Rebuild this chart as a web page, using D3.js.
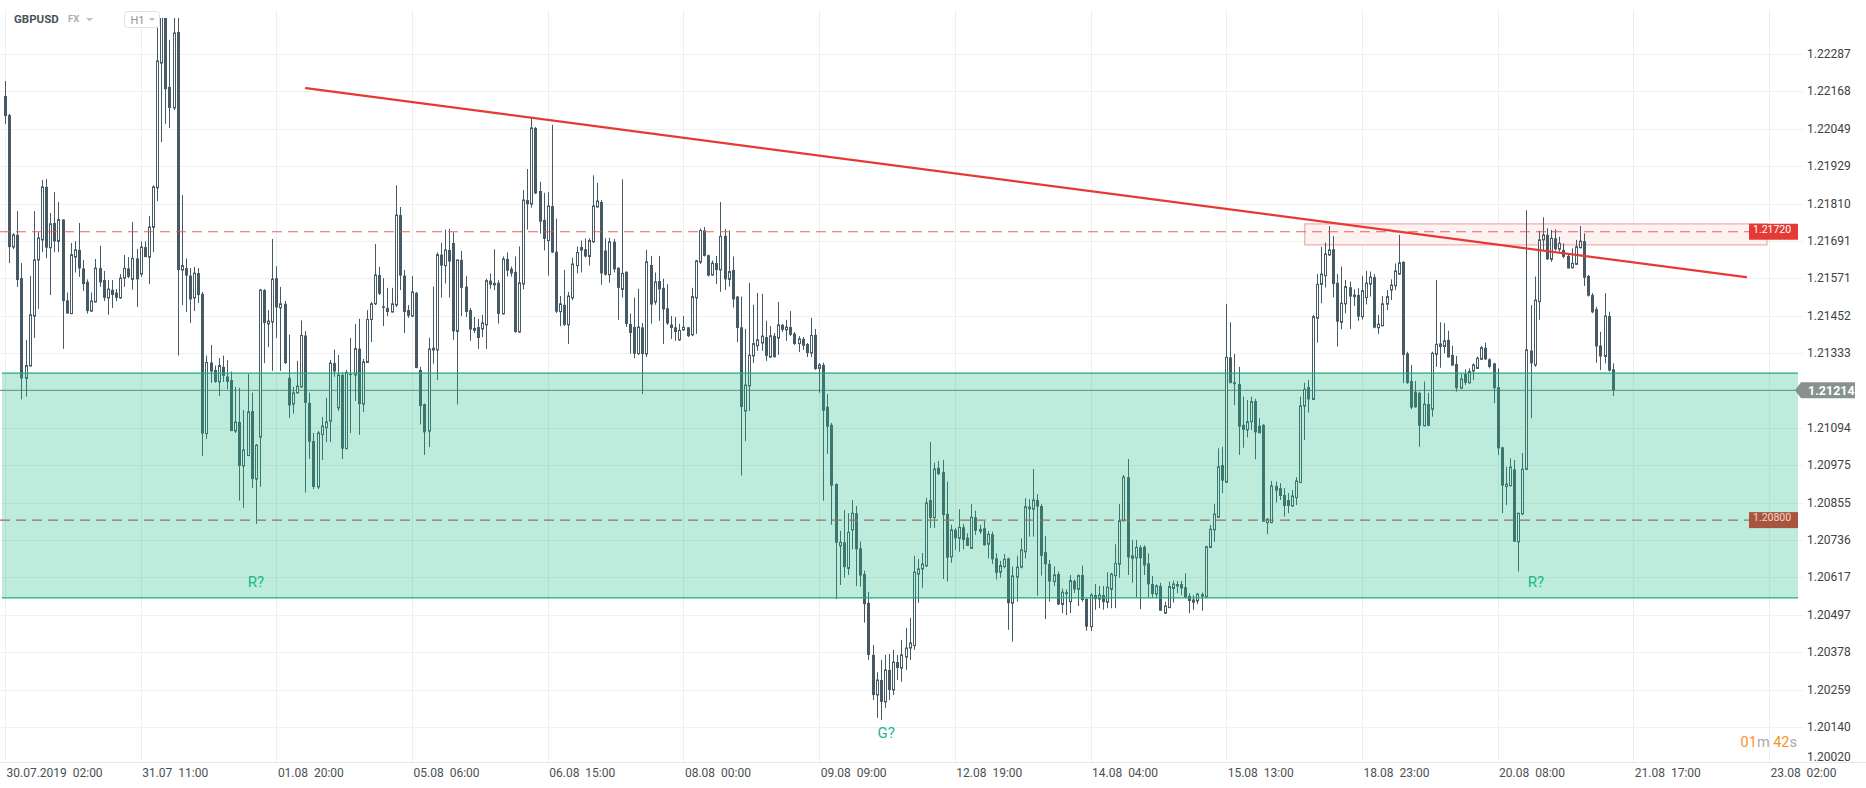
<!DOCTYPE html>
<html>
<head>
<meta charset="utf-8">
<script src="https://cdn.jsdelivr.net/npm/d3@7"></script>
<style>
  html, body { margin: 0; padding: 0; background: #fff; }
  svg { display: block; font-family: Roboto, "Noto Sans", sans-serif; }
</style>
</head>
<body>
<svg id="chart" width="1866" height="788"></svg>
<script>
// GBPUSD H1 candles (index 0 = 30.07.2019 02:00)
const opens = [
  1.22153,1.22092,1.21671,1.21710,1.21572,1.21252,1.21292,1.21451,1.21630,1.21694,
  1.21863,1.21669,1.21748,1.21689,1.21759,1.21501,1.21459,1.21639,1.21662,1.21603,
  1.21560,1.21467,1.21496,1.21604,1.21566,1.21509,1.21535,1.21526,1.21509,1.21572,
  1.21603,1.21568,1.21635,1.21585,1.21671,1.21639,1.21734,1.21860,1.22258,1.22427,
  1.22182,1.22115,1.22357,1.21598,1.21604,1.21580,1.21509,1.21588,1.21522,1.21076,
  1.21303,1.21279,1.21241,1.21289,1.21258,1.21247,1.21084,1.21113,1.20973,1.21006,
  1.21148,1.20931,1.21065,1.21534,1.21426,1.21432,1.21572,1.21477,1.21490,1.21254,
  1.21170,1.21206,1.21225,1.21389,1.21174,1.21052,1.20906,1.21073,1.21095,1.21116,
  1.21301,1.21158,1.21263,1.21028,1.21266,1.21263,1.21347,1.21170,1.21303,1.21440,
  1.21490,1.21582,1.21482,1.21477,1.21464,1.21486,1.21773,1.21580,1.21470,1.21451,
  1.21525,1.21279,1.21170,1.21084,1.21350,1.21343,1.21647,1.21612,1.21662,1.21684,
  1.21402,1.21630,1.21545,1.21470,1.21413,1.21416,1.21410,1.21423,1.21564,1.21557,
  1.21557,1.21458,1.21633,1.21602,1.21592,1.21400,1.21553,1.21821,1.21808,1.22051,
  1.21850,1.21758,1.21692,1.21802,1.21656,1.21465,1.21487,1.21423,1.21509,1.21612,
  1.21671,1.21664,1.21641,1.21688,1.21799,1.21815,1.21660,1.21583,1.21688,1.21605,
  1.21536,1.21592,1.21426,1.21416,1.21331,1.21415,1.21330,1.21614,1.21496,1.21563,
  1.21541,1.21476,1.21424,1.21415,1.21375,1.21407,1.21415,1.21391,1.21509,1.21623,
  1.21724,1.21645,1.21582,1.21620,1.21598,1.21707,1.21568,1.21598,1.21513,1.21415,
  1.21148,1.21228,1.21324,1.21356,1.21365,1.21384,1.21320,1.21388,1.21381,1.21423,
  1.21407,1.21416,1.21395,1.21363,1.21378,1.21362,1.21333,1.21391,1.21284,1.21295,
  1.21162,1.21104,1.20915,1.20718,1.20729,1.20646,1.20769,1.20822,1.20710,1.20628,
  1.20536,1.20370,1.20242,1.20290,1.20220,1.20322,1.20258,1.20347,1.20328,1.20363,
  1.20392,1.20400,1.20628,1.20644,1.20654,1.20864,1.20808,1.20967,1.20953,1.20820,
  1.20683,1.20769,1.20742,1.20777,1.20744,1.20710,1.20809,1.20772,1.20774,1.20723,
  1.20755,1.20678,1.20634,1.20652,1.20678,1.20535,1.20618,1.20650,1.20699,1.20843,
  1.20835,1.20864,1.20845,1.20698,1.20660,1.20604,1.20628,1.20531,1.20570,1.20540,
  1.20606,1.20579,1.20625,1.20549,1.20460,1.20561,1.20548,1.20561,1.20538,1.20579,
  1.20623,1.20659,1.20798,1.20937,1.20678,1.20680,1.20713,1.20715,1.20662,1.20596,
  1.20564,1.20590,1.20503,1.20521,1.20582,1.20596,1.20596,1.20586,1.20558,1.20538,
  1.20542,1.20564,1.20556,1.20713,1.20769,1.20809,1.20976,1.20921,1.21319,1.21240,
  1.21234,1.21104,1.21088,1.21114,1.21180,1.21101,1.21104,1.20792,1.20792,1.20909,
  1.20902,1.20880,1.20864,1.20845,1.20872,1.20920,1.21164,1.21224,1.21185,1.21444,
  1.21552,1.21580,1.21646,1.21664,1.21557,1.21431,1.21490,1.21543,1.21513,1.21518,
  1.21449,1.21510,1.21553,1.21575,1.21414,1.21420,1.21489,1.21534,1.21548,1.21585,
  1.21624,1.21332,1.21244,1.21210,1.21206,1.21101,1.21170,1.21154,1.21329,1.21354,
  1.21354,1.21375,1.21327,1.21298,1.21221,1.21266,1.21238,1.21276,1.21284,1.21313,
  1.21350,1.21313,1.21300,1.21224,1.21032,1.20907,1.20910,1.20962,1.20731,1.20820,
  1.20962,1.21341,1.21295,1.21497,1.21694,1.21710,1.21632,1.21699,1.21664,1.21662,
  1.21643,1.21605,1.21616,1.21669,1.21690,1.21579,1.21518,1.21473,1.21357,1.21322,
  1.21451,1.21281
];
const highs = [
  1.22201,1.22096,1.21716,1.21786,1.21620,1.21375,1.21579,1.21786,1.21719,1.21885,
  1.21888,1.21780,1.21847,1.21815,1.21760,1.21526,1.21684,1.21690,1.21748,1.21630,
  1.21568,1.21526,1.21633,1.21675,1.21595,1.21566,1.21566,1.21537,1.21585,1.21646,
  1.21639,1.21751,1.21665,1.21689,1.21689,1.21770,1.21868,1.22443,1.22450,1.22459,
  1.22332,1.22402,1.22402,1.21837,1.21635,1.21604,1.21608,1.21604,1.21528,1.21325,
  1.21359,1.21293,1.21317,1.21325,1.21311,1.21274,1.21225,1.21222,1.21151,1.21266,
  1.21207,1.21043,1.21537,1.21537,1.21470,1.21697,1.21610,1.21544,1.21499,1.21392,
  1.21225,1.21308,1.21437,1.21403,1.21207,1.21078,1.21084,1.21129,1.21190,1.21311,
  1.21344,1.21327,1.21271,1.21279,1.21381,1.21426,1.21442,1.21314,1.21470,1.21496,
  1.21681,1.21608,1.21572,1.21541,1.21541,1.21868,1.21799,1.21598,1.21486,1.21579,
  1.21528,1.21289,1.21172,1.21382,1.21545,1.21654,1.21685,1.21727,1.21729,1.21718,
  1.21630,1.21659,1.21579,1.21477,1.21448,1.21442,1.21455,1.21570,1.21587,1.21664,
  1.21566,1.21641,1.21654,1.21609,1.21641,1.21673,1.21853,1.21920,1.22083,1.22054,
  1.21879,1.21844,1.21847,1.22061,1.21762,1.21515,1.21598,1.21528,1.21637,1.21673,
  1.21692,1.21699,1.21699,1.21900,1.21876,1.21821,1.21699,1.21701,1.21697,1.21606,
  1.21887,1.21594,1.21459,1.21510,1.21538,1.21429,1.21662,1.21643,1.21590,1.21643,
  1.21570,1.21553,1.21451,1.21448,1.21426,1.21451,1.21416,1.21541,1.21630,1.21730,
  1.21735,1.21647,1.21628,1.21643,1.21815,1.21729,1.21724,1.21641,1.21515,1.21513,
  1.21410,1.21557,1.21487,1.21525,1.21522,1.21436,1.21419,1.21397,1.21496,1.21426,
  1.21439,1.21467,1.21400,1.21387,1.21384,1.21365,1.21445,1.21410,1.21301,1.21302,
  1.21202,1.21110,1.20917,1.20766,1.20832,1.20822,1.20864,1.20845,1.20731,1.20639,
  1.20571,1.20402,1.20315,1.20354,1.20370,1.20373,1.20386,1.20370,1.20418,1.20456,
  1.20488,1.20686,1.20676,1.20695,1.20871,1.21049,1.20983,1.20989,1.20992,1.20923,
  1.20785,1.20775,1.20835,1.20788,1.20758,1.20851,1.20830,1.20785,1.20797,1.20765,
  1.20763,1.20694,1.20670,1.20692,1.20680,1.20652,1.20686,1.20742,1.20870,1.20867,
  1.20963,1.20883,1.20851,1.20750,1.20673,1.20652,1.20636,1.20582,1.20579,1.20625,
  1.20611,1.20627,1.20655,1.20550,1.20567,1.20596,1.20590,1.20590,1.20634,1.20632,
  1.20723,1.20851,1.20944,1.20995,1.20737,1.20737,1.20720,1.20720,1.20694,1.20622,
  1.20595,1.20600,1.20540,1.20604,1.20607,1.20606,1.20606,1.20630,1.20567,1.20561,
  1.20567,1.20569,1.20718,1.20785,1.20851,1.21029,1.21034,1.21490,1.21431,1.21330,
  1.21289,1.21194,1.21183,1.21194,1.21187,1.21125,1.21106,1.20806,1.20925,1.20923,
  1.20918,1.20902,1.20886,1.20896,1.20937,1.21194,1.21238,1.21247,1.21455,1.21585,
  1.21672,1.21685,1.21738,1.21706,1.21585,1.21609,1.21566,1.21561,1.21536,1.21540,
  1.21579,1.21595,1.21593,1.21585,1.21455,1.21515,1.21534,1.21568,1.21619,1.21710,
  1.21626,1.21337,1.21295,1.21244,1.21210,1.21242,1.21206,1.21337,1.21566,1.21431,
  1.21428,1.21404,1.21356,1.21324,1.21266,1.21281,1.21284,1.21300,1.21322,1.21356,
  1.21366,1.21316,1.21302,1.21284,1.21034,1.20970,1.20997,1.20992,1.20823,1.21014,
  1.21789,1.21486,1.21577,1.21723,1.21766,1.21731,1.21726,1.21728,1.21704,1.21683,
  1.21651,1.21667,1.21694,1.21738,1.21715,1.21582,1.21524,1.21481,1.21401,1.21524,
  1.21465,1.21300
];
const lows = [
  1.22064,1.21620,1.21665,1.21544,1.21185,1.21194,1.21290,1.21381,1.21474,1.21655,
  1.21636,1.21518,1.21655,1.21655,1.21346,1.21459,1.21457,1.21590,1.21576,1.21531,
  1.21459,1.21464,1.21494,1.21544,1.21499,1.21455,1.21477,1.21499,1.21506,1.21544,
  1.21572,1.21535,1.21480,1.21576,1.21639,1.21553,1.21655,1.21818,1.22006,1.22064,
  1.22051,1.22108,1.21325,1.21486,1.21464,1.21429,1.21467,1.21493,1.21005,1.21059,
  1.21238,1.21238,1.21196,1.21241,1.21218,1.21084,1.21078,1.20862,1.20839,1.21004,
  1.20903,1.20788,1.20906,1.21301,1.21352,1.21276,1.21381,1.21276,1.21298,1.21126,
  1.21140,1.21204,1.21222,1.20888,1.20995,1.20899,1.20899,1.20992,1.21049,1.21049,
  1.21257,1.21148,1.20995,1.21026,1.21078,1.21180,1.21072,1.21145,1.21301,1.21368,
  1.21486,1.21518,1.21419,1.21451,1.21462,1.21480,1.21534,1.21397,1.21445,1.21448,
  1.21285,1.21105,1.21008,1.21033,1.21299,1.21247,1.21510,1.21555,1.21510,1.21375,
  1.21169,1.21451,1.21448,1.21372,1.21397,1.21346,1.21384,1.21346,1.21538,1.21534,
  1.21427,1.21456,1.21577,1.21577,1.21398,1.21398,1.21536,1.21727,1.21797,1.21840,
  1.21714,1.21660,1.21580,1.21652,1.21461,1.21419,1.21419,1.21362,1.21502,1.21587,
  1.21590,1.21638,1.21612,1.21685,1.21797,1.21551,1.21580,1.21557,1.21590,1.21439,
  1.21510,1.21416,1.21331,1.21317,1.21327,1.21202,1.21320,1.21427,1.21487,1.21436,
  1.21362,1.21423,1.21378,1.21372,1.21372,1.21404,1.21384,1.21387,1.21394,1.21617,
  1.21641,1.21577,1.21580,1.21553,1.21528,1.21534,1.21545,1.21478,1.21368,1.20942,
  1.21052,1.21148,1.21301,1.21340,1.21340,1.21308,1.21318,1.21318,1.21327,1.21400,
  1.21372,1.21387,1.21359,1.21336,1.21343,1.21320,1.21320,1.21279,1.21206,1.20862,
  1.21011,1.20785,1.20548,1.20593,1.20616,1.20625,1.20707,1.20590,1.20588,1.20473,
  1.20354,1.20226,1.20169,1.20162,1.20201,1.20226,1.20242,1.20290,1.20284,1.20322,
  1.20354,1.20386,1.20536,1.20584,1.20650,1.20775,1.20775,1.20944,1.20612,1.20604,
  1.20664,1.20705,1.20699,1.20707,1.20718,1.20708,1.20753,1.20756,1.20718,1.20678,
  1.20660,1.20611,1.20616,1.20646,1.20450,1.20412,1.20540,1.20646,1.20678,1.20747,
  1.20747,1.20559,1.20623,1.20484,1.20540,1.20590,1.20529,1.20503,1.20497,1.20503,
  1.20567,1.20526,1.20540,1.20447,1.20446,1.20514,1.20519,1.20514,1.20519,1.20519,
  1.20519,1.20616,1.20796,1.20625,1.20600,1.20553,1.20516,1.20625,1.20553,1.20551,
  1.20551,1.20511,1.20501,1.20519,1.20537,1.20567,1.20561,1.20551,1.20503,1.20514,
  1.20532,1.20511,1.20551,1.20711,1.20731,1.20807,1.20886,1.20919,1.21237,1.21167,
  1.21008,1.21031,1.21064,1.21088,1.20994,1.21077,1.20795,1.20755,1.20790,1.20856,
  1.20864,1.20811,1.20822,1.20843,1.20848,1.20918,1.21056,1.21143,1.21183,1.21366,
  1.21492,1.21542,1.21643,1.21511,1.21354,1.21409,1.21460,1.21410,1.21483,1.21436,
  1.21440,1.21488,1.21513,1.21412,1.21394,1.21418,1.21470,1.21502,1.21534,1.21583,
  1.21237,1.21235,1.21154,1.21158,1.21034,1.21099,1.21099,1.21130,1.21289,1.21286,
  1.21332,1.21319,1.21293,1.21210,1.21219,1.21231,1.21236,1.21247,1.21282,1.21311,
  1.21311,1.21284,1.21173,1.21008,1.20822,1.20848,1.20907,1.20731,1.20636,1.20816,
  1.20960,1.21125,1.21289,1.21439,1.21662,1.21630,1.21624,1.21660,1.21656,1.21635,
  1.21603,1.21603,1.21614,1.21667,1.21547,1.21513,1.21460,1.21302,1.21279,1.21300,
  1.21274,1.21196
];
const closes = [
  1.22089,1.21671,1.21710,1.21566,1.21252,1.21293,1.21455,1.21630,1.21700,1.21863,
  1.21669,1.21745,1.21689,1.21759,1.21499,1.21459,1.21647,1.21662,1.21603,1.21553,
  1.21467,1.21499,1.21604,1.21558,1.21509,1.21537,1.21518,1.21509,1.21572,1.21603,
  1.21576,1.21635,1.21568,1.21671,1.21639,1.21735,1.21863,1.22265,1.22427,1.22175,
  1.22115,1.22354,1.21598,1.21612,1.21580,1.21504,1.21588,1.21518,1.21076,1.21303,
  1.21274,1.21241,1.21293,1.21260,1.21241,1.21084,1.21113,1.20973,1.21024,1.21145,
  1.20931,1.21039,1.21534,1.21429,1.21435,1.21569,1.21478,1.21490,1.21301,1.21166,
  1.21206,1.21228,1.21389,1.21174,1.21050,1.20906,1.21078,1.21100,1.21113,1.21301,
  1.21274,1.21263,1.21028,1.21271,1.21263,1.21347,1.21170,1.21305,1.21440,1.21490,
  1.21582,1.21522,1.21477,1.21464,1.21490,1.21773,1.21580,1.21464,1.21452,1.21528,
  1.21285,1.21164,1.21080,1.21346,1.21341,1.21647,1.21612,1.21662,1.21625,1.21402,
  1.21630,1.21541,1.21464,1.21408,1.21404,1.21381,1.21429,1.21564,1.21551,1.21549,
  1.21458,1.21633,1.21596,1.21587,1.21400,1.21557,1.21821,1.21808,1.22051,1.21842,
  1.21752,1.21697,1.21802,1.21654,1.21465,1.21490,1.21423,1.21515,1.21617,1.21654,
  1.21660,1.21641,1.21692,1.21802,1.21818,1.21587,1.21583,1.21688,1.21600,1.21541,
  1.21587,1.21426,1.21397,1.21331,1.21416,1.21330,1.21624,1.21488,1.21560,1.21536,
  1.21472,1.21427,1.21413,1.21400,1.21405,1.21415,1.21387,1.21513,1.21627,1.21724,
  1.21643,1.21580,1.21620,1.21598,1.21705,1.21568,1.21593,1.21504,1.21413,1.21161,
  1.21231,1.21326,1.21363,1.21375,1.21387,1.21324,1.21388,1.21320,1.21423,1.21407,
  1.21416,1.21391,1.21362,1.21378,1.21356,1.21333,1.21389,1.21282,1.21295,1.21149,
  1.21098,1.20910,1.20728,1.20729,1.20650,1.20761,1.20822,1.20707,1.20623,1.20532,
  1.20370,1.20242,1.20290,1.20220,1.20322,1.20258,1.20347,1.20328,1.20370,1.20392,
  1.20408,1.20634,1.20644,1.20660,1.20855,1.20807,1.20963,1.20947,1.20816,1.20680,
  1.20769,1.20742,1.20777,1.20737,1.20718,1.20809,1.20766,1.20763,1.20720,1.20755,
  1.20675,1.20632,1.20655,1.20675,1.20535,1.20622,1.20650,1.20705,1.20843,1.20835,
  1.20864,1.20843,1.20686,1.20659,1.20604,1.20625,1.20531,1.20570,1.20564,1.20607,
  1.20579,1.20623,1.20545,1.20460,1.20561,1.20548,1.20561,1.20538,1.20586,1.20628,
  1.20662,1.20798,1.20937,1.20681,1.20686,1.20713,1.20678,1.20655,1.20595,1.20564,
  1.20590,1.20511,1.20526,1.20588,1.20596,1.20588,1.20582,1.20553,1.20542,1.20545,
  1.20564,1.20556,1.20715,1.20771,1.20819,1.20970,1.20926,1.21319,1.21237,1.21234,
  1.21098,1.21088,1.21114,1.21178,1.21080,1.21077,1.20795,1.20803,1.20909,1.20894,
  1.20877,1.20845,1.20845,1.20877,1.20925,1.21164,1.21217,1.21185,1.21449,1.21552,
  1.21585,1.21649,1.21662,1.21553,1.21433,1.21492,1.21545,1.21513,1.21518,1.21449,
  1.21532,1.21556,1.21575,1.21414,1.21425,1.21490,1.21513,1.21550,1.21595,1.21621,
  1.21327,1.21237,1.21159,1.21160,1.21101,1.21170,1.21101,1.21332,1.21361,1.21362,
  1.21372,1.21319,1.21293,1.21221,1.21250,1.21238,1.21274,1.21295,1.21316,1.21350,
  1.21313,1.21289,1.21221,1.21029,1.20910,1.20915,1.20969,1.20731,1.20822,1.20962,
  1.21343,1.21300,1.21502,1.21694,1.21710,1.21632,1.21699,1.21664,1.21683,1.21640,
  1.21603,1.21619,1.21672,1.21690,1.21573,1.21516,1.21463,1.21354,1.21322,1.21451,
  1.21277,1.21214
];

// axis labels
const timeLabels = ["30.07.2019  02:00", "31.07  11:00", "01.08  20:00", "05.08  06:00",
  "06.08  15:00", "08.08  00:00", "09.08  09:00", "12.08  19:00", "14.08  04:00",
  "15.08  13:00", "18.08  23:00", "20.08  08:00", "21.08  17:00", "23.08  02:00"];
const barsPerLabel = 33;
const priceTicks = [1.22287, 1.22168, 1.22049, 1.21929, 1.21810, 1.21691, 1.21571, 1.21452,
  1.21333, 1.21214, 1.21094, 1.20975, 1.20855, 1.20736, 1.20617, 1.20497, 1.20378,
  1.20259, 1.20140, 1.20020];

// drawn objects
const lastPrice = 1.21214;
const resistance = 1.21720;
const support = 1.20800;
const greenZone = [1.20552, 1.21269];
const pinkZone = {from: 316.1, to: 428.5, lo: 1.21678, hi: 1.21745};
const trend = [[73.2, 1.22178], [423.4, 1.21575]];
const notes = [
  {text: "R?", i: 61, p: 1.20603},
  {text: "G?", i: 214.3, p: 1.20121},
  {text: "R?", i: 372.3, p: 1.20603}
];

const W = 1866, H = 788;
const plotRight = 1798, axisY = 762;
const candleColor = "#455a64";

const svg = d3.select("#chart");
svg.append("rect").attr("width", W).attr("height", H).attr("fill", "#fff");

const x = d3.scaleLinear().domain([0, 429]).range([5, 1769]);
const y = d3.scaleLinear().domain([1.20140, 1.22287]).range([727, 54]);
const px = v => Math.round(v) + 0.5;

// grid
const grid = svg.append("g");
grid.selectAll("line.h")
  .data(priceTicks.filter(v => y(v) < axisY - 2))
  .join("line")
  .attr("x1", 0).attr("x2", 1803)
  .attr("y1", d => px(y(d))).attr("y2", d => px(y(d)))
  .attr("stroke", "#f0f0f0");
grid.selectAll("line.v")
  .data(timeLabels)
  .join("line")
  .attr("x1", (d, i) => px(x(i * barsPerLabel))).attr("x2", (d, i) => px(x(i * barsPerLabel)))
  .attr("y1", 10).attr("y2", axisY)
  .attr("stroke", "#eeeeee");

// light resistance box
svg.append("rect")
  .attr("x", x(pinkZone.from)).attr("width", x(pinkZone.to) - x(pinkZone.from))
  .attr("y", y(pinkZone.hi)).attr("height", y(pinkZone.lo) - y(pinkZone.hi))
  .attr("fill", "#fdf2f2").attr("stroke", "#f6a9a9").attr("stroke-width", 1.2);

// last price line
svg.append("line")
  .attr("x1", 0).attr("x2", 1796)
  .attr("y1", y(lastPrice)).attr("y2", y(lastPrice))
  .attr("stroke", "#6e7f80").attr("stroke-width", 1);

// candles
svg.append("clipPath").attr("id", "plotClip")
  .append("rect").attr("x", 0).attr("y", 18).attr("width", plotRight).attr("height", axisY - 18);

const idx = d3.range(opens.length);
const cg = svg.append("g").attr("clip-path", "url(#plotClip)");
cg.selectAll("line.wick")
  .data(idx)
  .join("line")
  .attr("x1", i => px(x(i))).attr("x2", i => px(x(i)))
  .attr("y1", i => y(highs[i])).attr("y2", i => y(lows[i]))
  .attr("stroke", candleColor).attr("stroke-width", 1);
cg.selectAll("rect.body")
  .data(idx)
  .join("rect")
  .each(function (i) {
    const up = closes[i] >= opens[i];
    const top = y(Math.max(opens[i], closes[i]));
    const h = Math.max(1, y(Math.min(opens[i], closes[i])) - top);
    const r = Math.round(x(i));
    const s = d3.select(this);
    if (up) {
      s.attr("x", r - 0.5).attr("width", 2)
        .attr("y", top).attr("height", h)
        .attr("fill", "#fff").attr("stroke", candleColor).attr("stroke-width", 1);
    } else {
      s.attr("x", r - 1).attr("width", 3)
        .attr("y", top).attr("height", h)
        .attr("fill", candleColor);
    }
  });

// support dashed line (under the zone)
svg.append("line")
  .attr("x1", 0).attr("x2", 1750)
  .attr("y1", y(support)).attr("y2", y(support))
  .attr("stroke", "#b85f4e").attr("stroke-width", 1.2)
  .attr("stroke-dasharray", "10,6");

// green zone overlay
svg.append("rect")
  .attr("x", 2).attr("width", plotRight - 2)
  .attr("y", y(greenZone[1])).attr("height", y(greenZone[0]) - y(greenZone[1]))
  .attr("fill", "rgb(35,188,138)").attr("fill-opacity", 0.3);
svg.selectAll("line.zone")
  .data(greenZone)
  .join("line")
  .attr("x1", 2).attr("x2", plotRight)
  .attr("y1", d => y(d)).attr("y2", d => y(d))
  .attr("stroke", "#1fa97b").attr("stroke-width", 1.4);

// resistance dashed line
svg.append("line")
  .attr("x1", 0).attr("x2", 1750)
  .attr("y1", y(resistance)).attr("y2", y(resistance))
  .attr("stroke", "#e8504c").attr("stroke-opacity", 0.9).attr("stroke-width", 1.2)
  .attr("stroke-dasharray", "10,6");

// trend line
svg.append("line")
  .attr("x1", x(trend[0][0])).attr("y1", y(trend[0][1]))
  .attr("x2", x(trend[1][0])).attr("y2", y(trend[1][1]))
  .attr("stroke", "#e53935").attr("stroke-width", 2.2).attr("stroke-linecap", "round");

// level labels
function levelTag(v, fill, color) {
  const top = y(v) - 8;
  svg.append("rect").attr("x", 1749).attr("y", top).attr("width", plotRight - 1749).attr("height", 16)
    .attr("fill", fill);
  svg.append("text").attr("x", 1753).attr("y", top + 9)
    .attr("font-size", 10.5).attr("fill", color).text(v.toFixed(5));
}
levelTag(resistance, "#e53935", "#ffffff");
levelTag(support, "#a8553f", "#f3d6cc");

// price axis (the last price gets its own tag instead of a tick label)
svg.selectAll("text.price")
  .data(priceTicks.filter(v => v !== lastPrice))
  .join("text")
  .attr("x", 1807)
  .attr("y", d => Math.min(y(d) + 4, 761))
  .attr("font-size", 12).attr("fill", "#3c4246")
  .text(d => d.toFixed(5));

const ly = y(lastPrice);
svg.append("path")
  .attr("d", `M1795,${ly} L1801,${ly - 8} L1855,${ly - 8} L1855,${ly + 8} L1801,${ly + 8} Z`)
  .attr("fill", "#87928f");
svg.append("text").attr("x", 1808).attr("y", ly + 4.5)
  .attr("font-size", 12.5).attr("font-weight", "bold").attr("fill", "#fff")
  .text(lastPrice.toFixed(5));

// time axis
svg.append("line").attr("x1", 0).attr("x2", W).attr("y1", axisY + 0.5).attr("y2", axisY + 0.5)
  .attr("stroke", "#e8e8e8");
svg.selectAll("text.time")
  .data(timeLabels)
  .join("text")
  .attr("x", (d, i) => x(i * barsPerLabel) + 1.5)
  .attr("y", 777)
  .attr("font-size", 12).attr("fill", "#4a4f52")
  .style("white-space", "pre")
  .text(d => d);

// notes
svg.selectAll("text.note")
  .data(notes)
  .join("text")
  .attr("x", d => x(d.i)).attr("y", d => y(d.p))
  .attr("dy", "0.36em")
  .attr("text-anchor", "middle")
  .attr("font-size", 15).attr("fill", "#1db68d")
  .text(d => d.text);

// header
svg.append("text").attr("x", 14).attr("y", 23).attr("font-size", 11.5).attr("font-weight", "bold")
  .attr("fill", "#4b5358").text("GBPUSD");
svg.append("text").attr("x", 68).attr("y", 22).attr("font-size", 9.5).attr("font-weight", "bold")
  .attr("fill", "#a7afb4").text("FX");
svg.append("path").attr("d", "M86,18 L93,18 L89.5,21.5 Z").attr("fill", "#bcc3c7");
svg.append("rect").attr("x", 124.5).attr("y", 11.5).attr("width", 35).attr("height", 16).attr("rx", 3)
  .attr("fill", "#fff").attr("stroke", "#e0e3e5");
svg.append("text").attr("x", 130.5).attr("y", 23.5).attr("font-size", 11)
  .attr("fill", "#8d969b").text("H1");
svg.append("path").attr("d", "M149,18 L155,18 L152,21 Z").attr("fill", "#bcc3c7");

// countdown
const timer = svg.append("text").attr("x", 1797).attr("y", 747).attr("text-anchor", "end")
  .attr("font-size", 14.5);
timer.append("tspan").attr("fill", "#f7931e").text("01");
timer.append("tspan").attr("fill", "#a9a9a9").text("m ");
timer.append("tspan").attr("fill", "#f7931e").text("42");
timer.append("tspan").attr("fill", "#a9a9a9").text("s");
</script>
</body>
</html>
